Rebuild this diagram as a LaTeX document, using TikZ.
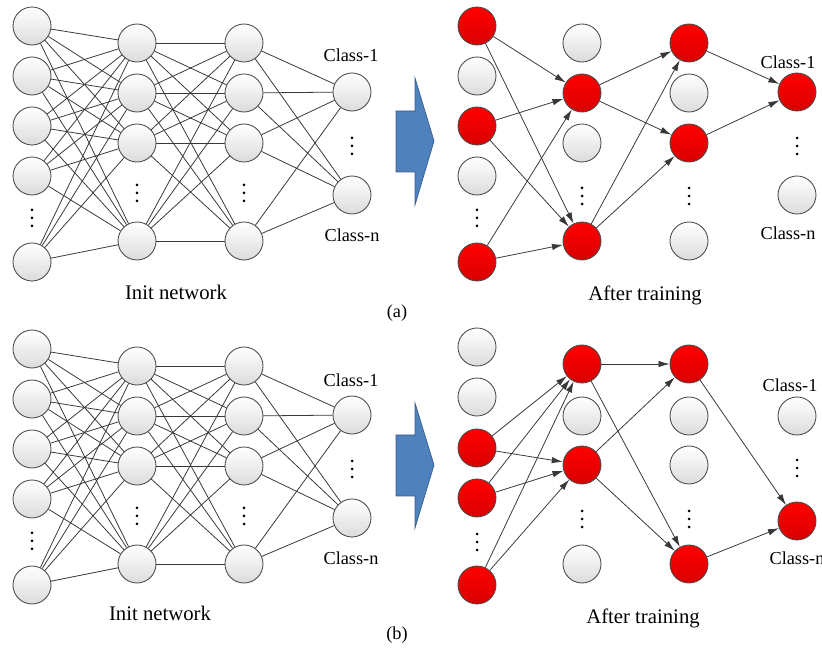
\documentclass[tikz,border=0pt]{standalone}
\usepackage{fontspec}
\setmainfont{Liberation Serif}
\usepackage{amsmath,amssymb}
\usetikzlibrary{arrows.meta}

\definecolor{arrowblue}{HTML}{4F81BD}
\definecolor{arrowedge}{HTML}{385D8A}

\begin{document}
\begin{tikzpicture}
	[x=0.2mm,y=-0.2mm,
	 neuron/.style={circle,draw=black!70,line width=0.5pt,minimum size=7.6mm,
	   inner sep=0pt,top color=white,bottom color=black!14},
	 fired/.style={neuron,top color=red,bottom color=red!85!black},
	 wire/.style={black!78,line width=0.45pt},
	 flow/.style={wire,-{Latex[length=2.2mm,width=1.3mm]}},
	 ellip/.style={inner sep=0pt,minimum width=1.4mm,minimum height=4.4mm,
	   path picture={\foreach \d in {-1.6mm,0mm,1.6mm}
	     \fill[black] ([yshift=\d]path picture bounding box.center) circle (0.3mm);}},
	 tag/.style={font=\fontsize{10.4}{12}\selectfont},
	 caption/.style={font=\fontsize{11.8}{14}\selectfont}]
\useasboundingbox (0,0) rectangle (822,648);

% init networks, same in (a) and (b)
\foreach \p/\dy in {ai/0,bi/323}{
  \foreach \y [count=\i] in {26,76,126,176,262}
    \node[neuron] (\p-0-\i) at (32,\y+\dy) {};
  \foreach \y [count=\i] in {43,93,143,241}{
    \node[neuron] (\p-1-\i) at (137,\y+\dy) {};
    \node[neuron] (\p-2-\i) at (244,\y+\dy) {};}
  \node[neuron] (\p-3-1) at (352,92+\dy) {};
  \node[neuron] (\p-3-2) at (352,195+\dy) {};
  \node[ellip] (\p-0-d) at (32,218+\dy) {};
  \node[ellip] (\p-1-d) at (137,193+\dy) {};
  \node[ellip] (\p-2-d) at (244,193+\dy) {};
  \node[ellip] (\p-3-d) at (352,146+\dy) {};
  \foreach \s in {1,...,5} \foreach \t in {1,...,4}
    \draw[wire] (\p-0-\s) -- (\p-1-\t);
  \foreach \s in {1,...,4} \foreach \t in {1,...,4}
    \draw[wire] (\p-1-\s) -- (\p-2-\t);
  \foreach \s in {1,...,4} \foreach \t in {1,2}
    \draw[wire] (\p-2-\s) -- (\p-3-\t);
}

% (a) after training
\foreach \y/\k [count=\i] in {26/fired,76/neuron,126/fired,176/neuron,262/fired}
  \node[\k] (at-0-\i) at (477,\y) {};
\foreach \y/\k [count=\i] in {43/neuron,93/fired,143/neuron,241/fired}
  \node[\k] (at-1-\i) at (582,\y) {};
\foreach \y/\k [count=\i] in {43/fired,93/neuron,143/fired,241/neuron}
  \node[\k] (at-2-\i) at (689,\y) {};
\node[fired] (at-3-1) at (797,92) {};
\node[neuron] (at-3-2) at (797,195) {};
\node[ellip] (at-0-d) at (477,218) {};
\node[ellip] (at-1-d) at (582,196) {};
\node[ellip] (at-2-d) at (689,196) {};
\node[ellip] (at-3-d) at (797,146) {};
\foreach \s in {1,3,5} \foreach \t in {2,4}
  \draw[flow] (at-0-\s) -- (at-1-\t);
\foreach \s in {2,4} \foreach \t in {1,3}
  \draw[flow] (at-1-\s) -- (at-2-\t);
\foreach \s in {1,3}
  \draw[flow] (at-2-\s) -- (at-3-1);

% (b) after training
\foreach \y/\k [count=\i] in {347/neuron,397/neuron,448/fired,498/fired,585/fired}
  \node[\k] (bt-0-\i) at (477,\y) {};
\foreach \y/\k [count=\i] in {364/fired,416/neuron,465/fired,564/neuron}
  \node[\k] (bt-1-\i) at (582,\y) {};
\foreach \y/\k [count=\i] in {364/fired,416/neuron,465/neuron,564/fired}
  \node[\k] (bt-2-\i) at (689,\y) {};
\node[neuron] (bt-3-1) at (797,416) {};
\node[fired] (bt-3-2) at (797,521) {};
\node[ellip] (bt-0-d) at (477,542) {};
\node[ellip] (bt-1-d) at (582,519) {};
\node[ellip] (bt-2-d) at (689,519) {};
\node[ellip] (bt-3-d) at (797,468) {};
\foreach \s in {3,4,5} \foreach \t in {1,3}
  \draw[flow] (bt-0-\s) -- (bt-1-\t);
\foreach \s in {1,3} \foreach \t in {1,4}
  \draw[flow] (bt-1-\s) -- (bt-2-\t);
\foreach \s in {1,4}
  \draw[flow] (bt-2-\s) -- (bt-3-2);

% block arrows
\filldraw[fill=arrowblue,draw=arrowedge,line width=0.4pt]
  (396,111) -- (415,111) -- (415,78) -- (434,141) -- (415,205) -- (415,172) -- (396,172) -- cycle;
\filldraw[fill=arrowblue,draw=arrowedge,line width=0.4pt]
  (396,435) -- (415,435) -- (415,403) -- (434,465) -- (415,528) -- (415,496) -- (396,496) -- cycle;

% labels
\node[tag] (ai-c1) at (351,55) {Class-1};
\node[tag] (ai-cn) at (352,235) {Class-n};
\node[caption] (ai-cap) at (176,292) {Init network};
\node[tag] (a-lab) at (397,313) {(a)};
\node[caption] (at-cap) at (645,295) {After training};
\node[tag] (at-c1) at (788,62) {Class-1};
\node[tag] (at-cn) at (788,233) {Class-n};
\node[tag] (bi-c1) at (351,380) {Class-1};
\node[tag] (bi-cn) at (351,558) {Class-n};
\node[caption] (bi-cap) at (160,613) {Init network};
\node[tag] (b-lab) at (397,635) {(b)};
\node[caption] (bt-cap) at (643,618) {After training};
\node[tag] (bt-c1) at (790,385) {Class-1};
\node[tag] (bt-cn) at (797,558) {Class-n};
\end{tikzpicture}
\end{document}
